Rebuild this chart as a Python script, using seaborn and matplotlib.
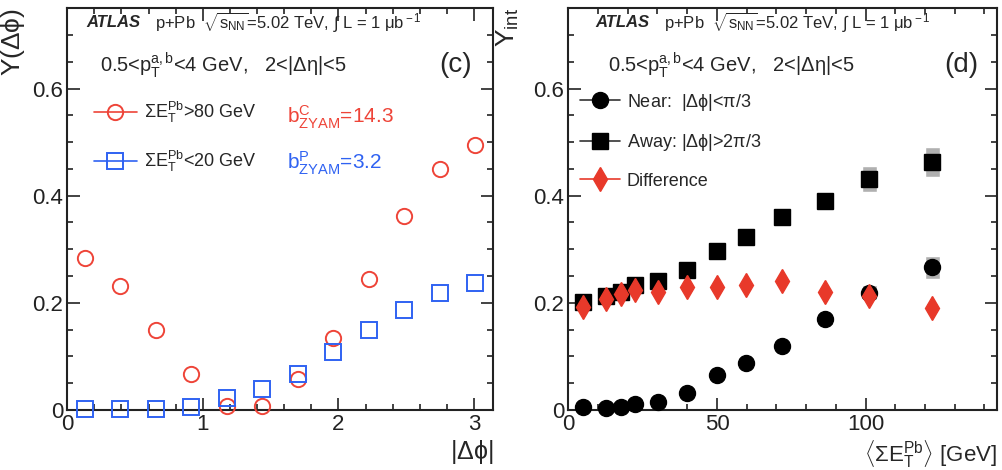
import numpy as np
import pandas as pd
import seaborn as sns
import matplotlib
matplotlib.use('Agg')
import matplotlib.pyplot as plt
from matplotlib.lines import Line2D
from matplotlib.ticker import MultipleLocator, FuncFormatter

# ---- panel (c): per-trigger yield vs |dphi| ----
dphi = [0.131, 0.393, 0.654, 0.916, 1.178, 1.440, 1.702, 1.963, 2.225, 2.487, 2.749, 3.011]
y_central = [0.283, 0.232, 0.150, 0.067, 0.008, 0.007, 0.058, 0.135, 0.245, 0.362, 0.450, 0.495]
y_periph = [0.002, 0.001, 0.002, 0.006, 0.022, 0.040, 0.068, 0.108, 0.150, 0.187, 0.219, 0.237]

# ---- panel (d): integrated yields vs <sum ET Pb> ----
et_pb = [5.0, 12.7, 17.6, 22.4, 30.1, 39.8, 49.9, 59.7, 71.8, 86.5, 101.2, 122.4]
y_near = [0.006, 0.004, 0.005, 0.012, 0.015, 0.032, 0.066, 0.088, 0.119, 0.169, 0.219, 0.266]
y_away = [0.201, 0.212, 0.221, 0.234, 0.240, 0.262, 0.296, 0.322, 0.360, 0.390, 0.431, 0.462]
y_diff = [0.193, 0.208, 0.216, 0.223, 0.221, 0.229, 0.230, 0.234, 0.240, 0.221, 0.212, 0.191]
sys_near = [0.002, 0.002, 0.002, 0.002, 0.002, 0.003, 0.004, 0.005, 0.007, 0.010, 0.014, 0.022]
sys_away = [0.005, 0.005, 0.005, 0.006, 0.006, 0.007, 0.008, 0.010, 0.013, 0.017, 0.024, 0.028]
sys_diff = [0.006, 0.006, 0.006, 0.006, 0.006, 0.006, 0.006, 0.006, 0.007, 0.007, 0.008, 0.008]

df_c = pd.DataFrame({'dphi': dphi, 'central': y_central, 'peripheral': y_periph})
df_d = pd.DataFrame({'et': et_pb, 'near': y_near, 'away': y_away, 'diff': y_diff,
                     'sys_near': sys_near, 'sys_away': sys_away, 'sys_diff': sys_diff})

sns.set_style('ticks')
plt.rcParams['font.family'] = ['Liberation Sans', 'DejaVu Sans']
plt.rcParams['mathtext.fontset'] = 'custom'
plt.rcParams['mathtext.rm'] = 'Liberation Sans'
plt.rcParams['mathtext.it'] = 'Liberation Sans'
plt.rcParams['mathtext.bf'] = 'Liberation Sans:bold'
plt.rcParams['mathtext.sf'] = 'Liberation Sans'

red = '#ee4438'
blue = '#2f62f2'
dred = '#e8392a'

fig = plt.figure(figsize=(10.03, 4.70), dpi=100)
ax1 = fig.add_axes([0.067, 0.1277, 0.4247, 0.855])
ax2 = fig.add_axes([0.5666, 0.1277, 0.4277, 0.855])


def style_axis(ax, xmax, xmajor, xminor):
    ax.set_xlim(0, xmax)
    ax.set_ylim(0, 0.75)
    ax.xaxis.set_major_locator(MultipleLocator(xmajor))
    ax.xaxis.set_minor_locator(MultipleLocator(xminor))
    ax.yaxis.set_major_locator(MultipleLocator(0.2))
    ax.yaxis.set_minor_locator(MultipleLocator(0.05))
    ax.yaxis.set_major_formatter(FuncFormatter(lambda v, p: '%g' % round(v, 3)))
    ax.tick_params(which='both', direction='in', top=True, right=True,
                   labelsize=16, width=1.2, colors='#222222')
    ax.tick_params(which='major', length=9, pad=3)
    ax.tick_params(which='minor', length=4.5)
    for s in ax.spines.values():
        s.set_linewidth(1.5)
        s.set_color('#222222')


# ---- panel (c) ----
style_axis(ax1, np.pi, 1, 0.2)
ax1.plot(df_c.dphi, df_c.central, ls='none', marker='o', ms=11, mfc='none',
         mec=red, mew=1.4, clip_on=False, zorder=3)
ax1.plot(df_c.dphi, df_c.peripheral, ls='none', marker='s', ms=12, mfc='none',
         mec=blue, mew=1.4, clip_on=False, zorder=3)

ax1.set_ylabel(r'Y$(\Delta\phi)$', fontsize=19, loc='top')
ax1.yaxis.set_label_coords(-0.095, 1.0)
ax1.set_xlabel(r'$|\Delta\phi|$', fontsize=18, loc='right')
ax1.xaxis.set_label_coords(1.0, -0.07)

ax1.text(0.045, 0.963, 'ATLAS', transform=ax1.transAxes, fontsize=12,
         fontweight='bold', style='italic', va='center')
ax1.text(0.207, 0.963, r'p+Pb  $\sqrt{s_{\rm NN}}$=5.02 TeV, $\int$ L = 1 $\mu$b$^{\rm -1}$',
         transform=ax1.transAxes, fontsize=12, va='center')
ax1.text(0.077, 0.858, r'0.5<p$_{\rm T}^{\rm a,b}$<4 GeV,   2<$|\Delta\eta|$<5',
         transform=ax1.transAxes, fontsize=14.5, va='center')
ax1.text(0.95, 0.858, '(c)', transform=ax1.transAxes, fontsize=20, va='center', ha='right')

h1 = [Line2D([], [], color=red, marker='o', ms=11, mfc='none', mec=red, mew=1.4, lw=1.2),
      Line2D([], [], color=blue, marker='s', ms=12, mfc='none', mec=blue, mew=1.4, lw=1.2)]
ax1.legend(h1, [r'$\Sigma$E$_{\rm T}^{\rm Pb}$>80 GeV', r'$\Sigma$E$_{\rm T}^{\rm Pb}$<20 GeV'],
           loc='upper left', bbox_to_anchor=(0.045, 0.79), frameon=False,
           fontsize=13, handlelength=2.4, handletextpad=0.4, labelspacing=1.35,
           borderaxespad=0)
ax1.text(0.515, 0.729, r'b$^{\rm C}_{\rm ZYAM}$=14.3', transform=ax1.transAxes,
         fontsize=15, color=red, va='center')
ax1.text(0.515, 0.614, r'b$^{\rm P}_{\rm ZYAM}$=3.2', transform=ax1.transAxes,
         fontsize=15, color=blue, va='center')

# ---- panel (d) ----
style_axis(ax2, 144.3, 50, 10)
ax2.bar(df_d.et, 2 * df_d.sys_away, bottom=df_d.away - df_d.sys_away, width=5,
        color='#b0b0b0', zorder=1)
ax2.bar(df_d.et, 2 * df_d.sys_near, bottom=df_d.near - df_d.sys_near, width=5,
        color='#b0b0b0', zorder=1)
ax2.bar(df_d.et, 2 * df_d.sys_diff, bottom=df_d['diff'] - df_d.sys_diff, width=4,
        color='#f6c4be', zorder=1)
ax2.plot(df_d.et, df_d.near, ls='none', marker='o', ms=11.5, color='black', clip_on=False, zorder=3)
ax2.plot(df_d.et, df_d.away, ls='none', marker='s', ms=11.5, color='black', clip_on=False, zorder=3)
ax2.plot(df_d.et, df_d['diff'], ls='none', marker='d', ms=12, color=dred, clip_on=False, zorder=4)

ax2.set_ylabel(r'Y$_{\rm int}$', fontsize=19, loc='top')
ax2.yaxis.set_label_coords(-0.11, 1.0)
ax2.set_xlabel(r'$\langle\Sigma$E$_{\rm T}^{\rm Pb}\rangle$ [GeV]', fontsize=16, loc='right')
ax2.xaxis.set_label_coords(1.0, -0.07)

ax2.text(0.063, 0.963, 'ATLAS', transform=ax2.transAxes, fontsize=12,
         fontweight='bold', style='italic', va='center')
ax2.text(0.224, 0.963, r'p+Pb  $\sqrt{s_{\rm NN}}$=5.02 TeV, $\int$ L = 1 $\mu$b$^{\rm -1}$',
         transform=ax2.transAxes, fontsize=12, va='center')
ax2.text(0.093, 0.858, r'0.5<p$_{\rm T}^{\rm a,b}$<4 GeV,   2<$|\Delta\eta|$<5',
         transform=ax2.transAxes, fontsize=14.5, va='center')
ax2.text(0.955, 0.858, '(d)', transform=ax2.transAxes, fontsize=20, va='center', ha='right')

h2 = [Line2D([], [], color='#333333', marker='o', ms=11.5, mfc='black', mec='black', lw=1.2),
      Line2D([], [], color='#333333', marker='s', ms=11.5, mfc='black', mec='black', lw=1.2),
      Line2D([], [], color=dred, marker='d', ms=12, mfc=dred, mec=dred, lw=1.2)]
ax2.legend(h2, [r'Near:  $|\Delta\phi|$<$\pi$/3', r'Away: $|\Delta\phi|$>2$\pi$/3', 'Difference'],
           loc='upper left', bbox_to_anchor=(0.01, 0.81), frameon=False,
           fontsize=13, handlelength=2.2, handletextpad=0.4, labelspacing=1.08,
           borderaxespad=0)

fig.savefig('out.png', dpi=100)
